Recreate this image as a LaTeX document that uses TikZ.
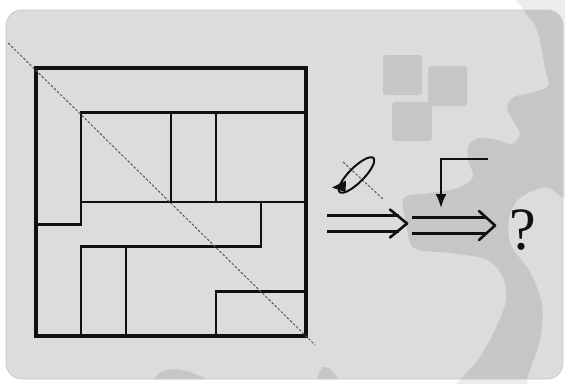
\documentclass[tikz,border=0pt]{standalone}
\usepackage{fontspec}
\setmainfont{Liberation Serif}
\usetikzlibrary{arrows.meta}
\definecolor{panel}{HTML}{DCDCDC}
\definecolor{wm}{HTML}{C6C6C6}
\definecolor{wmout}{HTML}{ECECEC}
\definecolor{ink}{HTML}{101010}
\newcommand{\wmshape}{plot[smooth cycle, tension=0.55] coordinates {
 (514,-12) (575,-12) (575,185) (545,187) (520,198) (509,218) (511,245)
 (530,272) (542,305) (540,340) (528,375) (520,398) (450,398) (478,360)
 (495,330) (506,300) (502,275) (485,259) (450,253) (414,248) (406,222)
 (404,198) (430,193) (458,188) (473,177) (468,160) (469,145) (480,138)
 (497,140) (512,144) (520,134) (513,121) (507,107) (514,97) (530,93)
 (548,86) (545,68) (541,45) (535,25) (525,12)}}
\begin{document}
\begin{tikzpicture}[x=1pt,y=-1pt,
  frame/.style={line width=3.4pt, draw=ink},
  wall/.style={line width=2.8pt, draw=ink, line cap=rect},
  diag/.style={line width=1pt, draw=ink!70, dash pattern=on 2.5pt off 1.8pt},
  dbl/.style={line width=2.9pt, draw=ink},
  chev/.style={line width=2.6pt, draw=ink, line cap=round, line join=round},
  wmfill/.style={fill=wm}]
\useasboundingbox (0,0) rectangle (565,383);
\fill[white] (0,0) rectangle (565,383);
\fill[wmout] \wmshape;
% panel with watermark
\begin{scope}
  \path[clip, rounded corners=16pt] (6,10) rectangle (563,379);
  \fill[panel] (0,0) rectangle (565,383);
  \fill[wmfill] \wmshape;
  \fill[wmfill] (150,392) .. controls (151,368) and (178,356) .. (226,392) -- cycle;
  \fill[wmfill] (317,392) .. controls (317,366) and (324,352) .. (346,392) -- cycle;
  \fill[wmfill, rounded corners=3pt] (383,55) rectangle (422,95);
  \fill[wmfill, rounded corners=3pt] (428,66) rectangle (467,106);
  \fill[wmfill, rounded corners=3pt] (392,102) rectangle (432,141);
\end{scope}
\draw[rounded corners=16pt, draw=black!22, line width=0.8pt] (6,10) rectangle (563,379);
% plan
\begin{scope}[shift={(36,68)}, x=45pt, y=-44.667pt]
  \draw[wall] (1,1) -- (6,1);
  \draw[wall] (0,3.5) -- (1,3.5) -- (1,1);
  \draw[wall] (3,1) -- (3,3);
  \draw[wall] (4,1) -- (4,3);
  \draw[wall] (1,3) -- (6,3);
  \draw[wall] (1,4) -- (5,4) -- (5,3);
  \draw[wall] (1,4) -- (1,6);
  \draw[wall] (2,4) -- (2,6);
  \draw[wall] (4,6) -- (4,5) -- (6,5);
  \draw[frame] (0,0) rectangle (6,6);
  \draw[diag] (-0.62,-0.56) -- (6.2,6.2);
\end{scope}
% rotation symbol
\coordinate (rc) at (356.5,175);
\coordinate (rtip) at (332,187.5);
\draw[diag] (343,162) -- (383,199);
\draw[line width=2pt, draw=ink, rotate around={45:(rc)}]
  (rc) ellipse[x radius=24pt, y radius=7.5pt];
\fill[ink] (rtip) -- (346,180.5) -- (345.5,192) -- cycle;
% first double arrow
\coordinate (a1) at (327,223.5);
\coordinate (t1) at (407,223.5);
\draw[dbl] (327,215.2) -- (399,215.2);
\draw[dbl] (327,231.8) -- (399,231.8);
\draw[chev] (390,209.5) .. controls (398,217) .. (t1) .. controls (398,230) .. (390,237.5);
% second double arrow
\coordinate (a2) at (412,225.5);
\coordinate (t2) at (495,225.5);
\draw[dbl] (412,217.7) -- (487,217.7);
\draw[dbl] (412,233.3) -- (487,233.3);
\draw[chev] (479,211) .. controls (487,219) .. (t2) .. controls (487,232) .. (479,240);
% input arrow from above
\coordinate (ins) at (488,159);
\coordinate (bend) at (441,159);
\coordinate (inend) at (441,208);
\draw[line width=2.2pt, draw=ink, -{Latex[length=14pt,width=11pt]}] (ins) -- (bend) -- (inend);
% question mark
\node[inner sep=0pt, text=ink, font=\fontsize{60}{60}\selectfont] (q) at (522.5,230) {?};
\end{tikzpicture}
\end{document}
